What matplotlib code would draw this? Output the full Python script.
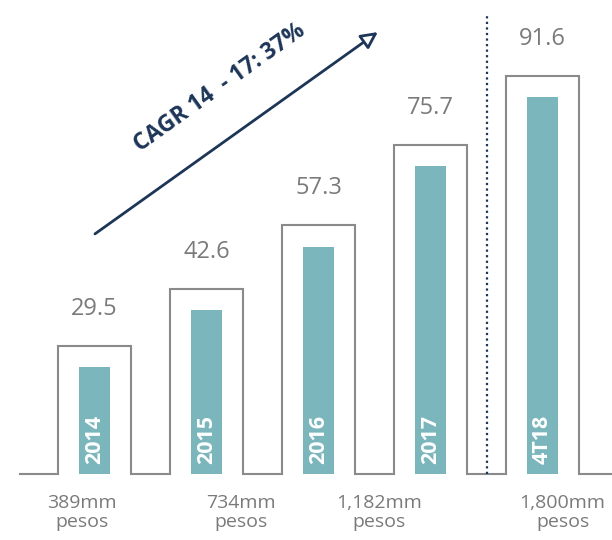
import matplotlib
matplotlib.use("Agg")
import matplotlib.pyplot as plt

# chart data
years = ["2014", "2015", "2016", "2017", "4T18"]
values = [29.5, 42.6, 57.3, 75.7, 91.6]
amounts = ["389mm\npesos", "734mm\npesos", "1,182mm\npesos", "1,800mm\npesos"]
amount_x = [-0.11, 1.31, 2.54, 4.18]
cagr_label = "CAGR 14  - 17: 37%"

TEAL = "#7ab6bc"
GRAY = "#8a8a8a"
NAVY = "#1d3557"
TEXT_GRAY = "#7a7a7a"

plt.rcParams["font.family"] = ["Open Sans", "DejaVu Sans"]

fig = plt.figure(figsize=(6.12, 5.4), dpi=100)
ax = fig.add_axes([0, 0, 1, 1])
ax.set_xlim(-0.844, 4.621)
ax.set_ylim(-15.17, 108.97)
ax.axis("off")

box_hw = 0.326
bar_w = 0.277
inset = 5.0

# outline "skyline" drawn as one polyline
xs, ys = [-0.665], [0]
for i, v in enumerate(values):
    xs += [i - box_hw, i - box_hw, i + box_hw, i + box_hw]
    ys += [0, v, v, 0]
xs.append(4.621)
ys.append(0)
ax.plot(xs, ys, color=GRAY, lw=1.5, solid_joinstyle="miter")

# teal bars inside each box
x_idx = list(range(len(values)))
ax.bar(x_idx, [v - inset for v in values], width=bar_w, color=TEAL, zorder=2)

for i, (yr, v) in enumerate(zip(years, values)):
    ax.text(i, 2.4, yr, rotation=90, ha="center", va="bottom", color="white",
            fontsize=15.5, fontweight="bold", zorder=3)
    ax.text(i, v + 8.5, f"{v:.1f}", ha="center", va="center", color=TEXT_GRAY,
            fontsize=17)

for x, s in zip(amount_x, amounts):
    ax.text(x, -4.6, s, ha="center", va="top", color=TEXT_GRAY, fontsize=14,
            linespacing=1.05)

# separator before the partial year
ax.plot([3.504, 3.504], [0, 105.5], color=NAVY, lw=1.6, ls=(0, (1, 1.5)))

# growth arrow + label
ax.annotate("", xy=(2.53, 101.6), xytext=(0.004, 55.2),
            arrowprops=dict(arrowstyle="-|>,head_length=1.0,head_width=0.5",
                            color=NAVY, lw=2, fc="white", shrinkA=0, shrinkB=0))
ax.text(1.12, 88.7, cagr_label, rotation=35.5, rotation_mode="anchor",
        ha="center", va="center", color=NAVY, fontsize=16.5, fontweight="bold")

fig.savefig("out.png", dpi=100)
